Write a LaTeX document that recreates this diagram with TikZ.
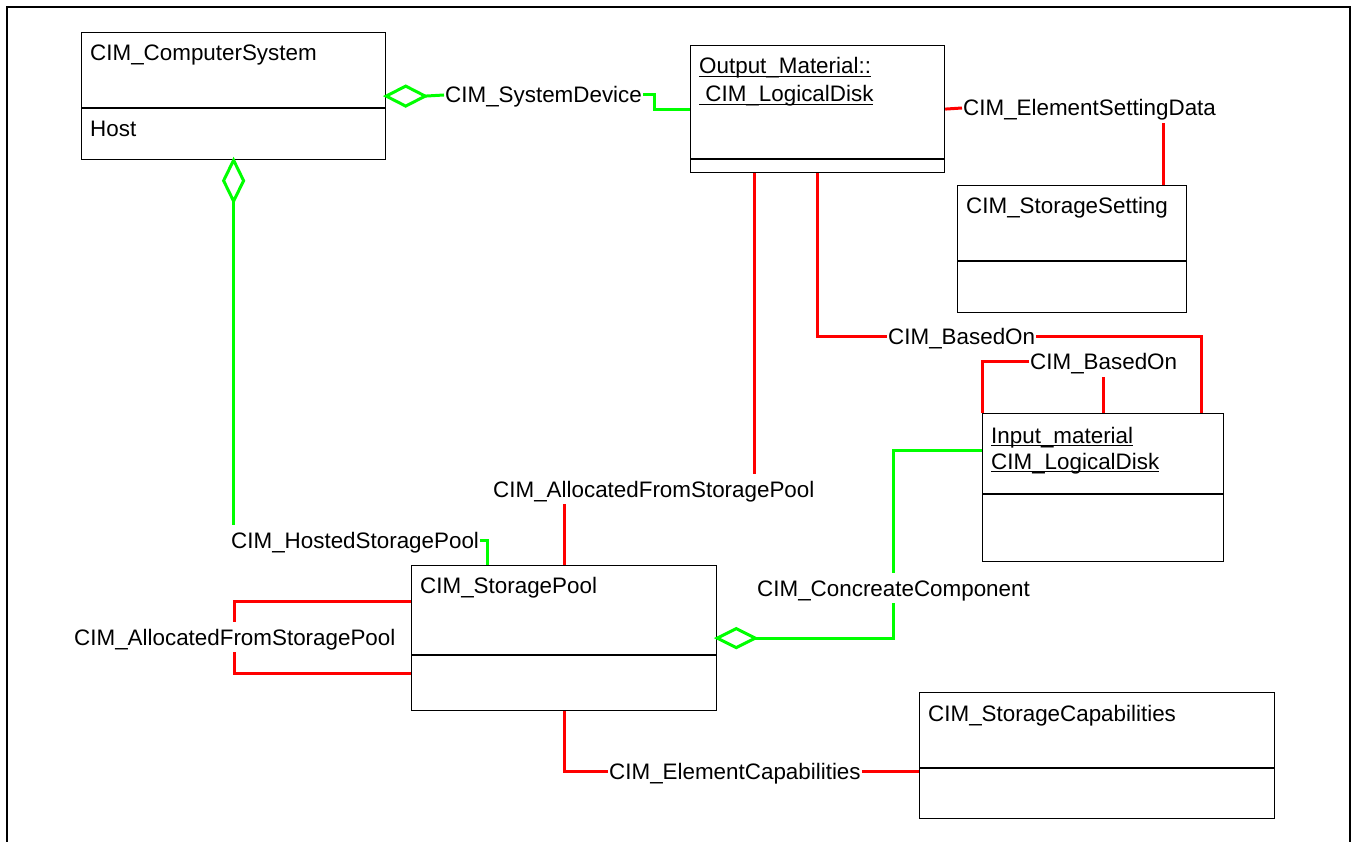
\documentclass[tikz,border=0pt]{standalone}
\usepackage{fontspec}
\setmainfont{Liberation Sans}
\usetikzlibrary{calc}
\definecolor{cred}{RGB}{255,0,0}
\definecolor{cgreen}{RGB}{0,255,0}
\newcommand\myul[1]{\setbox0\hbox{#1}\rlap{\rule[-3pt]{\wd0}{1.2pt}}\box0}
\begin{document}
\begin{tikzpicture}[x=1pt,y=-1pt,
 font=\fontsize{22.4pt}{27pt}\selectfont,
 cls/.style={draw=black, line width=1.2pt, inner sep=0pt, anchor=north west},
 divl/.style={draw=black, line width=1.2pt},
 txt/.style={inner sep=0pt, anchor=base west},
 lbl/.style={inner xsep=1pt, inner ysep=7pt, text height=16pt, text depth=0pt, anchor=west},
 rc/.style={draw=cred, line width=3pt},
 gc/.style={draw=cgreen, line width=3pt, line join=miter}
]
\useasboundingbox (0,0) rectangle (1353,842);
% frame
\draw[line width=2pt] (7,860) -- (7,7) -- (1350,7) -- (1350,860);

% class boxes
\node[cls, minimum width=304pt, minimum height=127pt] (cs) at (81,32) {};
\draw[divl] ($(cs.north west)+(0,76)$) -- ($(cs.north east)+(0,76)$);
\node[txt] (cst) at (90,61) {CIM\_ComputerSystem};
\node[txt] (csh) at (90,137) {Host};

\node[cls, minimum width=254pt, minimum height=127pt] (out) at (690,45) {};
\draw[divl] ($(out.north west)+(0,114)$) -- ($(out.north east)+(0,114)$);
\node[txt] (out1) at (699,74) {\myul{Output\_Material::}};
\node[txt] (out2) at (699,102) {\myul{\ CIM\_LogicalDisk}};

\node[cls, minimum width=229pt, minimum height=127pt] (ss) at (957,185) {};
\draw[divl] ($(ss.north west)+(0,76)$) -- ($(ss.north east)+(0,76)$);
\node[txt] (sst) at (966,214) {CIM\_StorageSetting};

\node[cls, minimum width=241pt, minimum height=148pt] (in) at (982,413) {};
\draw[divl] ($(in.north west)+(0,81)$) -- ($(in.north east)+(0,81)$);
\node[txt] (in1) at (991,443) {\myul{Input\_material}};
\node[txt] (in2) at (991,469) {\myul{CIM\_LogicalDisk}};

\node[cls, minimum width=305pt, minimum height=145pt] (sp) at (411,565) {};
\draw[divl] ($(sp.north west)+(0,90)$) -- ($(sp.north east)+(0,90)$);
\node[txt] (spt) at (420,593) {CIM\_StoragePool};

\node[cls, minimum width=355pt, minimum height=126pt] (sc) at (919,692) {};
\draw[divl] ($(sc.north west)+(0,76)$) -- ($(sc.north east)+(0,76)$);
\node[txt] (sct) at (928,721) {CIM\_StorageCapabilities};

% association labels
\node[lbl] (sd) at (444,95) {CIM\_SystemDevice};
\node[lbl] (esd) at (962,108) {CIM\_ElementSettingData};
\node[lbl] (bo1) at (887,337) {CIM\_BasedOn};
\node[lbl] (bo2) at (1029,362) {CIM\_BasedOn};
\node[lbl] (afa) at (492,489) {CIM\_AllocatedFromStoragePool};
\node[lbl] (hsp) at (230,540) {CIM\_HostedStoragePool};
\node[lbl] (afb) at (73,637) {CIM\_AllocatedFromStoragePool};
\node[lbl] (cc) at (756,588) {CIM\_ConcreateComponent};
\node[lbl] (ec) at (608,771) {CIM\_ElementCapabilities};

% aggregation diamonds
\draw[gc] (cs.east) -- ++(19.5,-10) -- ++(19.5,10) coordinate (d1) -- ++(-19.5,10) -- cycle;
\draw[gc] (cs.south) -- ++(10,20.5) -- ++(-10,20.5) coordinate (d2) -- ++(-10,-20.5) -- cycle;
\draw[gc] (sp.east) -- ++(19,-9.5) -- ++(19,9.5) coordinate (d3) -- ++(-19,9.5) -- cycle;

% connectors
\draw[gc] (d1) -- (sd.west);
\draw[gc] (sd.east) -- ++(11,0) |- (out.west);

\draw[gc] (d2) -- (d2 |- hsp.north);
\coordinate (p1) at ($(sp.north west)+(76,0)$);
\draw[gc] (hsp.east) -| (p1);

\coordinate (o1) at ($(out.south west)+(64,0)$);
\draw[rc] (o1) -- (o1 |- afa.north);
\draw[rc] (sp.north) -- (sp.north |- afa.south);

\coordinate (l1) at ($(sp.north west)+(0,36)$);
\coordinate (l2) at ($(sp.north west)+(0,108)$);
\draw[rc] (l1) -| (afb.north);
\draw[rc] (l2) -| (afb.south);

\draw[rc] (sp.south) |- (ec.west);
\draw[rc] (ec.east) -- (ec.east -| sc.west);

\coordinate (i0) at ($(in.north west)+(0,37)$);
\draw[gc] (i0) -| (cc.north);
\draw[gc] (d3) -| (cc.south);

\draw[rc] (out.east) -- (esd.west);
\coordinate (e1) at ($(ss.north west)+(206,0)$);
\draw[rc] (e1) -- (e1 |- esd.south);

\draw[rc] (out.south) |- (bo1.west);
\coordinate (i1) at ($(in.north east)+(-23,0)$);
\draw[rc] (bo1.east) -| (i1);

\draw[rc] (bo2.west) -| (in.north west);
\draw[rc] (in.north) -- (in.north |- bo2.south);
\end{tikzpicture}
\end{document}
